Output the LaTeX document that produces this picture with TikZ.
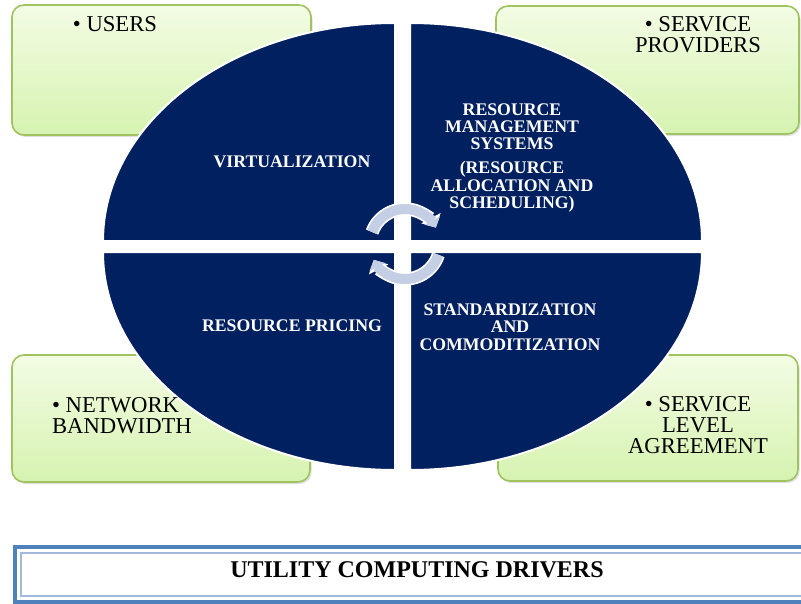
\documentclass[tikz,border=0pt]{standalone}
\usepackage{fontspec}
\setmainfont{Liberation Serif}
\usepackage{tikz}
\usetikzlibrary{arrows.meta,shadows}

\definecolor{navy}{RGB}{0,32,96}
\definecolor{leafTop}{RGB}{243,252,228}
\definecolor{leafBottom}{RGB}{214,243,176}
\definecolor{leafRim}{RGB}{160,195,95}
\definecolor{loopBlue}{RGB}{196,207,229}
\definecolor{frameBlue}{RGB}{79,129,189}
\definecolor{frameLight}{RGB}{160,185,220}

\begin{document}
\begin{tikzpicture}[x=0.75pt,y=0.75pt,
  driver box/.style={draw=leafRim,line width=1.2pt,rounded corners=9pt,
    top color=leafTop,bottom color=leafBottom,
    drop shadow={shadow xshift=1.2pt,shadow yshift=-1.5pt,opacity=0.25}},
  quarter/.style={fill=navy,draw=white,line width=1.5pt},
  box text/.style={font={\fontsize{17pt}{15.75pt}\selectfont},inner sep=0pt,align=center},
  quarter text/.style={font={\fontsize{13.3pt}{13pt}\selectfont\bfseries},
    text=white,inner sep=0pt,align=center},
  cycle arrow/.style={loopBlue,line width=7.5pt,-{Triangle[width=13pt,length=6pt]}},
  cycle halo/.style={white,line width=10pt,-{Triangle[width=16pt,length=8pt]}}]

  \useasboundingbox (0,0) rectangle (801,-604);
  \clip (0,0) rectangle (801,-604);

  % corner boxes
  \draw[driver box] (12,-5) rectangle (311,-135);
  \draw[driver box] (496,-6) rectangle (799,-134);
  \draw[driver box] (12,-355) rectangle (310,-482);
  \draw[driver box] (498,-355) rectangle (798,-481);

  % four quarters of the ellipse
  \coordinate (tl) at (395,-241);
  \coordinate (tr) at (410,-241);
  \coordinate (bl) at (395,-252);
  \coordinate (br) at (410,-252);
  \draw[quarter] (tl) -- ++(-292,0) arc[start angle=180,end angle=90,x radius=292,y radius=218] -- cycle;
  \draw[quarter] (tr) -- ++(0,218) arc[start angle=90,end angle=0,x radius=292,y radius=218] -- cycle;
  \draw[quarter] (bl) -- ++(-292,0) arc[start angle=180,end angle=270,x radius=292,y radius=218] -- cycle;
  \draw[quarter] (br) -- ++(292,0) arc[start angle=0,end angle=-90,x radius=292,y radius=218] -- cycle;

  % cycle arrows
  \coordinate (hub) at (405,-244);
  \draw[cycle halo] (hub) ++(160:35) arc[start angle=160,end angle=28,radius=35];
  \draw[cycle arrow] (hub) ++(160:35) arc[start angle=160,end angle=28,radius=35];
  \draw[cycle halo] (hub) ++(-18:35) arc[start angle=-18,end angle=-153,radius=35];
  \draw[cycle arrow] (hub) ++(-18:35) arc[start angle=-18,end angle=-153,radius=35];

  % texts
  \node[box text] (users) at (115,-24.5) {\textbullet\ USERS};
  \node[box text] (providers) at (698,-35) {\textbullet\ SERVICE\\PROVIDERS};
  \node[box text,align=left] (bandwidth) at (122,-415.5) {\textbullet\ NETWORK\\BANDWIDTH};
  \node[box text] (agreement) at (698,-425.5) {\textbullet\ SERVICE\\LEVEL\\AGREEMENT};

  \node[quarter text] (virtualization) at (292,-162) {VIRTUALIZATION};
  \node[quarter text] (rms) at (512,-158) {RESOURCE\\MANAGEMENT\\SYSTEMS\\[5pt](RESOURCE\\ALLOCATION AND\\SCHEDULING)};
  \node[quarter text] (pricing) at (292,-326) {RESOURCE PRICING};
  \node[quarter text] (standard) at (510,-327) {STANDARDIZATION\\AND\\COMMODITIZATION};

  % bottom banner
  \draw[frameBlue,line width=3pt] (15,-547) rectangle (830,-601.5);
  \draw[frameLight,line width=1pt] (21,-553) rectangle (830,-596);
  \node[font={\fontsize{18pt}{20pt}\selectfont\bfseries},inner sep=0pt] (title) at (417,-570) {UTILITY COMPUTING DRIVERS};
\end{tikzpicture}
\end{document}
